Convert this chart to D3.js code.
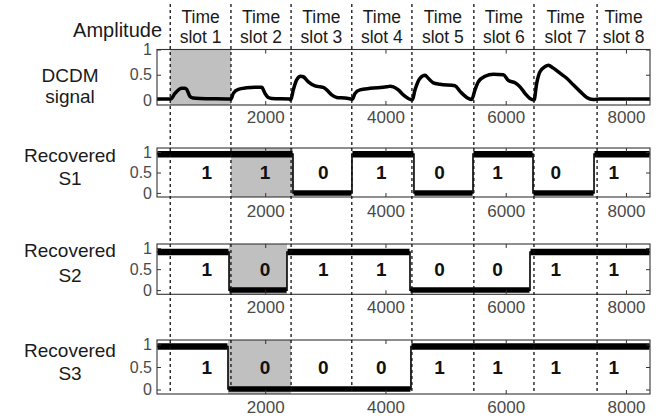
<!DOCTYPE html>
<html>
<head>
<meta charset="utf-8">
<script src="https://cdn.jsdelivr.net/npm/d3@7"></script>
<style>
  body { margin: 0; background: #fff; }
  svg { display: block; }
  text { font-family: "Liberation Sans", Arial, Helvetica, sans-serif; }
</style>
</head>
<body>
<svg id="chart" width="660" height="420"></svg>
<script>
// ---- values ----
const xTicks = [2000, 4000, 6000, 8000];
const yTicks = [0, 0.5, 1];
const slotNames = ["slot 1", "slot 2", "slot 3", "slot 4", "slot 5", "slot 6", "slot 7", "slot 8"];
const slotStarts = [420, 1430, 2430, 3440, 4440, 5470, 6470, 7520];

// DCDM received waveform (sample index, amplitude)
const dcdmT = [200, 428, 499, 611, 666, 694, 749, 799, 915, 1414,
  1426, 1469, 1552, 1692, 1830, 1941, 1996, 2051, 2113, 2412,
  2424, 2467, 2523, 2590, 2633, 2717, 2828, 2911, 2966, 3023,
  3106, 3189, 3327, 3422, 3448, 3493, 3577, 3743, 4021, 4076,
  4131, 4214, 4297, 4380, 4446, 4491, 4574, 4658, 4712, 4796,
  4907, 5157, 5240, 5351, 5434, 5489, 5544, 5656, 5794, 5960,
  6043, 6155, 6238, 6321, 6404, 6471, 6515, 6570, 6654, 6709,
  6792, 6903, 7015, 7124, 7236, 7347, 7457, 7568, 8400];
const dcdmA = [0.02, 0.02, 0.13, 0.23, 0.23, 0.21, 0.07, 0.04, 0.03, 0.02,
  0.01, 0.13, 0.21, 0.24, 0.25, 0.25, 0.13, 0.05, 0.03, 0.02,
  0.0, 0.2, 0.4, 0.47, 0.46, 0.36, 0.28, 0.26, 0.25, 0.2,
  0.1, 0.05, 0.04, 0.02, 0.01, 0.13, 0.2, 0.23, 0.26, 0.27,
  0.26, 0.2, 0.1, 0.03, 0.0, 0.2, 0.43, 0.49, 0.43, 0.34,
  0.31, 0.28, 0.17, 0.05, 0.01, 0.2, 0.36, 0.47, 0.51, 0.5,
  0.39, 0.34, 0.26, 0.13, 0.03, 0.0, 0.33, 0.56, 0.66, 0.69,
  0.63, 0.53, 0.43, 0.3, 0.17, 0.05, 0.01, 0.02, 0.02];

// Recovered channels: decided bits, level switch points and held levels
const s1Bits = [1, 1, 0, 1, 0, 1, 0, 1];
const s1Switch = [200, 2462, 3443, 4474, 5456, 6454, 7469, 8400];
const s1Level = [0.95, 0.0, 0.95, 0.0, 0.95, 0.0, 0.95];

const s2Bits = [1, 0, 1, 1, 0, 0, 1, 1];
const s2Switch = [200, 1398, 2362, 4408, 6404, 8400];
const s2Level = [0.91, 0.0, 0.91, 0.0, 0.91];

const s3Bits = [1, 0, 0, 0, 1, 1, 1, 1];
const s3Switch = [200, 1381, 4424, 8400];
const s3Level = [0.955, 0.01, 0.955];

// highlighted time slot in each row (sample range)
const shade1 = [420, 1430];
const shade2 = [1430, 2462];
const shade3 = [1398, 2362];
const shade4 = [1381, 2430];

// ---- layout ----
const svg = d3.select("#chart");
const xDomain = [200, 8400];
const x = d3.scaleLinear().domain(xDomain).range([157, 650]);
const bitX0 = 1030, bitStep = 967;
const rowLabelX = 70;

const panels = [
  { top: 49.5, bottom: 105, ylim: [-0.1, 1], shade: shade1, labels: ["DCDM", "signal"], labelY: [81.5, 103], tickLabelDy: 5.5 },
  { top: 148, bottom: 197, ylim: [-0.1, 1.1], shade: shade2, labels: ["Recovered", "S1"], labelY: [161.7, 185], bits: s1Bits, sw: s1Switch, lv: s1Level, tickLabelDy: 7.5 },
  { top: 244, bottom: 294.3, ylim: [-0.1, 1.1], shade: shade3, labels: ["Recovered", "S2"], labelY: [256.7, 281.7], bits: s2Bits, sw: s2Switch, lv: s2Level, tickLabelDy: 7 },
  { top: 340, bottom: 394, ylim: [-0.1, 1.1], shade: shade4, labels: ["Recovered", "S3"], labelY: [356.7, 380], bits: s3Bits, sw: s3Switch, lv: s3Level, tickLabelDy: 7 }
];

const [x0, x1] = x.range();

panels.forEach((p, pi) => {
  const y = d3.scaleLinear().domain(p.ylim).range([p.bottom, p.top]);
  const g = svg.append("g");

  g.append("rect").attr("x", x0).attr("y", p.top)
    .attr("width", x1 - x0).attr("height", p.bottom - p.top).attr("fill", "#fff");

  g.append("rect")
    .attr("x", x(p.shade[0])).attr("y", p.top)
    .attr("width", x(p.shade[1]) - x(p.shade[0])).attr("height", p.bottom - p.top)
    .attr("fill", "#c0c0c0");

  if (pi === 0) {
    const line = d3.line().x(d => x(d[0])).y(d => y(d[1])).curve(d3.curveMonotoneX);
    g.append("path")
      .datum(dcdmT.map((t, i) => [t, dcdmA[i]]))
      .attr("d", line)
      .attr("fill", "none").attr("stroke", "#000")
      .attr("stroke-width", 3.5).attr("stroke-linejoin", "round");
  } else {
    // thin step trace with thick plateaus
    const pts = [];
    p.lv.forEach((v, i) => { pts.push([p.sw[i], v]); pts.push([p.sw[i + 1], v]); });
    g.append("path")
      .datum(pts)
      .attr("d", d3.line().x(d => x(d[0])).y(d => y(d[1])))
      .attr("fill", "none").attr("stroke", "#000").attr("stroke-width", 1.6);
    g.selectAll("line.band").data(p.lv).join("line")
      .attr("class", "band")
      .attr("x1", (v, i) => x(p.sw[i]) + 0.5)
      .attr("x2", (v, i) => x(p.sw[i + 1]) - 0.5)
      .attr("y1", v => y(v)).attr("y2", v => y(v))
      .attr("stroke", "#000").attr("stroke-width", v => v > 0.5 ? 6.5 : 5.5);

    g.selectAll("text.bit").data(p.bits).join("text")
      .attr("class", "bit")
      .attr("x", (b, i) => x(bitX0 + i * bitStep))
      .attr("y", y(0.5))
      .attr("dy", "0.36em")
      .attr("text-anchor", "middle")
      .attr("font-size", 19).attr("font-weight", "bold").attr("fill", "#111")
      .text(b => b);
  }

  // axes: inward ticks on all four sides
  const axB = d3.axisBottom(x).tickValues(xTicks).tickSize(-4).tickPadding(p.tickLabelDy).tickFormat(d => String(d));
  const axT = d3.axisTop(x).tickValues(xTicks).tickSize(-4).tickFormat("");
  const axL = d3.axisLeft(y).tickValues(yTicks).tickSize(-4).tickPadding(5).tickFormat(d => String(d));
  const axR = d3.axisRight(y).tickValues(yTicks).tickSize(-4).tickFormat("");

  const styleAxis = sel => {
    sel.select(".domain").remove();
    sel.selectAll(".tick line").attr("stroke", "#333").attr("stroke-width", 1);
    sel.selectAll(".tick text").attr("fill", "#4a4a4a")
      .style("font-family", '"Liberation Sans", Arial, sans-serif');
  };
  g.append("g").attr("transform", `translate(0,${p.bottom})`).call(axB).call(styleAxis)
    .selectAll(".tick text").attr("font-size", 17);
  g.append("g").attr("transform", `translate(0,${p.top})`).call(axT).call(styleAxis);
  g.append("g").attr("transform", `translate(${x0},0)`).call(axL).call(styleAxis)
    .selectAll(".tick text").attr("font-size", 16);
  g.append("g").attr("transform", `translate(${x1},0)`).call(axR).call(styleAxis);

  g.append("rect").attr("x", x0).attr("y", p.top)
    .attr("width", x1 - x0).attr("height", p.bottom - p.top)
    .attr("fill", "none").attr("stroke", "#333").attr("stroke-width", 1.1);

  // row title
  p.labels.forEach((t, i) => {
    g.append("text").attr("x", rowLabelX).attr("y", p.labelY[i])
      .attr("text-anchor", "middle").attr("font-size", 19).attr("fill", "#1a1a1a")
      .text(t);
  });
});

// slot boundaries across all rows
svg.append("g").selectAll("line").data(slotStarts).join("line")
  .attr("x1", d => x(d)).attr("x2", d => x(d))
  .attr("y1", 4).attr("y2", panels[3].bottom)
  .attr("stroke", "#111").attr("stroke-width", 1.3)
  .attr("stroke-dasharray", "3,3");

// header
const slotEnds = slotStarts.slice(1).concat([xDomain[1]]);
const head = svg.append("g").attr("fill", "#1a1a1a").attr("font-size", 17.5).attr("text-anchor", "middle");
slotNames.forEach((s, i) => {
  const cx = x((slotStarts[i] + slotEnds[i]) / 2);
  head.append("text").attr("x", cx).attr("y", 23).text("Time");
  head.append("text").attr("x", cx).attr("y", 43).text(s);
});
svg.append("text").attr("x", 162).attr("y", 37).attr("text-anchor", "end")
  .attr("font-size", 20).attr("fill", "#1a1a1a").text("Amplitude");
</script>
</body>
</html>
